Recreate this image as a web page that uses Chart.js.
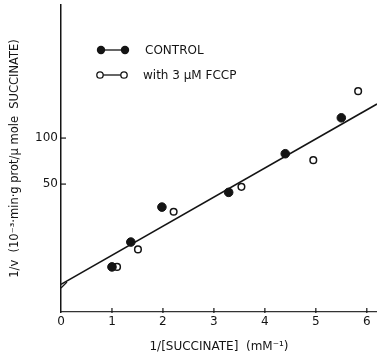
<!DOCTYPE html>
<html>
<head>
<meta charset="utf-8">
<script src="https://cdn.jsdelivr.net/npm/chart.js@4"></script>
<style>
  html, body { margin: 0; padding: 0; background: #fff; }
  #wrap { width: 377px; height: 363px; }
</style>
</head>
<body>
<div id="wrap"><canvas id="plot"></canvas></div>
<script>
// values
const controlX = [1.0, 1.37, 1.98, 3.29, 4.40, 5.50];
const controlY = [-40, -13, 25, 41, 83, 122];
const fccpX = [1.10, 1.51, 2.21, 3.54, 4.95, 5.83];
const fccpY = [-40, -21, 20, 47, 76, 151];
const fitX = [0, 6.2];
const fitY = [-59, 137];
const xTicks = [0, 1, 2, 3, 4, 5, 6];
const yTicks = [50, 100];

const ink = '#141414';

function pts(xs, ys) {
    return xs.map((x, i) => ({ x: x, y: ys[i] }));
}

// little tick marks pointing into the plot, plus the axis break and the key
const extras = {
    id: 'extras',
    afterDraw(chart) {
        const ctx = chart.ctx;
        const xs = chart.scales.x, ys = chart.scales.y;
        const area = chart.chartArea;
        ctx.save();
        ctx.strokeStyle = ink;
        ctx.lineWidth = 1.2;
        xTicks.forEach(v => {
            if (v === 0) return;
            const px = xs.getPixelForValue(v);
            ctx.beginPath();
            ctx.moveTo(px, area.bottom - 4);
            ctx.lineTo(px, area.bottom + 1);
            ctx.stroke();
        });
        yTicks.forEach(v => {
            const py = ys.getPixelForValue(v);
            ctx.beginPath();
            ctx.moveTo(area.left - 1, py);
            ctx.lineTo(area.left + 5, py);
            ctx.stroke();
        });
        // break mark on the y axis
        ctx.beginPath();
        ctx.moveTo(area.left, area.bottom - 24);
        ctx.lineTo(area.left + 6, area.bottom - 30);
        ctx.stroke();

        // key
        ctx.font = '12px "DejaVu Sans"';
        ctx.fillStyle = ink;
        ctx.textBaseline = 'middle';
        ctx.lineWidth = 1.3;
        ctx.beginPath();
        ctx.moveTo(101, 50); ctx.lineTo(125, 50);
        ctx.stroke();
        [101, 125].forEach(cx => {
            ctx.beginPath();
            ctx.arc(cx, 50, 4.2, 0, Math.PI * 2);
            ctx.fill();
        });
        ctx.fillText('CONTROL', 145, 51);
        ctx.beginPath();
        ctx.moveTo(103, 75); ctx.lineTo(121, 75);
        ctx.stroke();
        [100, 124].forEach(cx => {
            ctx.beginPath();
            ctx.arc(cx, 75, 3.2, 0, Math.PI * 2);
            ctx.fillStyle = '#fff';
            ctx.fill();
            ctx.stroke();
        });
        ctx.fillStyle = ink;
        ctx.fillText('with 3 μM FCCP', 143, 76);
        ctx.restore();
    }
};

new Chart(document.getElementById('plot').getContext('2d'), {
    type: 'scatter',
    data: {
        datasets: [
            {
                label: 'CONTROL',
                data: pts(controlX, controlY),
                pointRadius: 4.3,
                pointBackgroundColor: ink,
                pointBorderColor: ink,
                pointBorderWidth: 1
            },
            {
                label: 'with 3 μM FCCP',
                data: pts(fccpX, fccpY),
                pointRadius: 3.3,
                pointBackgroundColor: '#fff',
                pointBorderColor: ink,
                pointBorderWidth: 1.5
            },
            {
                label: 'fit',
                type: 'line',
                data: pts(fitX, fitY),
                borderColor: ink,
                borderWidth: 1.6,
                pointRadius: 0,
                fill: false
            }
        ]
    },
    options: {
        responsive: true,
        maintainAspectRatio: false,
        animation: false,
        layout: { autoPadding: false, padding: { top: 5, right: 0, left: 0, bottom: 0 } },
        plugins: {
            legend: { display: false },
            tooltip: { enabled: false }
        },
        scales: {
            x: {
                type: 'linear',
                min: 0,
                max: 6.2,
                afterBuildTicks: s => { s.ticks = xTicks.map(v => ({ value: v })); },
                afterFit: s => { s.height = 51; s.paddingLeft = 0; s.paddingRight = 0; },
                grid: { display: false, drawTicks: false },
                border: { color: '#333', width: 1.2, dash: [7, 2, 2, 2] },
                ticks: {
                    color: ink,
                    padding: 3,
                    maxRotation: 0,
                    font: { family: 'DejaVu Sans', size: 12 }
                },
                title: {
                    display: true,
                    text: '1/[SUCCINATE]  (mM⁻¹)',
                    color: ink,
                    padding: { top: 0, bottom: 9 },
                    font: { family: 'DejaVu Sans', size: 12 }
                }
            },
            y: {
                min: -89,
                max: 244.6,
                afterBuildTicks: s => { s.ticks = yTicks.map(v => ({ value: v })); },
                afterFit: s => { s.width = 61; s.paddingTop = 0; s.paddingBottom = 0; },
                grid: { display: false, drawTicks: false },
                border: { color: ink, width: 1.5 },
                ticks: {
                    color: ink,
                    padding: 3,
                    font: { family: 'DejaVu Sans', size: 12 }
                },
                title: {
                    display: true,
                    text: '1/v  (10⁻³·min·g prot/μ mole  SUCCINATE)',
                    color: ink,
                    padding: { top: 8, bottom: 6 },
                    font: { family: 'DejaVu Sans', size: 11.5 }
                }
            }
        }
    },
    plugins: [extras]
});
</script>
</body>
</html>
